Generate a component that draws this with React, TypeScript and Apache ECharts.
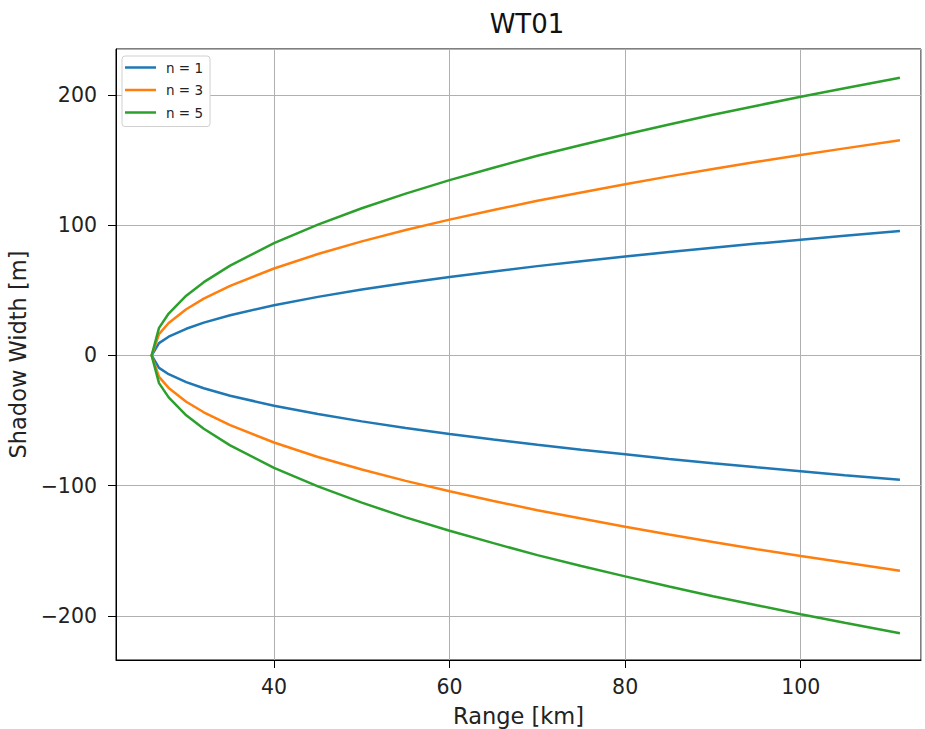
import React, { useEffect, useRef } from "react";
import * as echarts from "echarts";

const rangeKm = [26.06, 26.9, 28, 30, 32, 35, 40, 45, 50, 55, 60, 65, 70, 75, 80, 85, 90, 95, 100, 105, 111.3];
const n1Upper = [0, 9.5, 14.4, 20.5, 25.2, 30.9, 38.6, 45.0, 50.6, 55.6, 60.2, 64.5, 68.6, 72.4, 75.9, 79.4, 82.7, 85.9, 88.9, 91.9, 95.5];
const n1Lower = [0, -9.5, -14.4, -20.5, -25.2, -30.9, -38.6, -45.0, -50.6, -55.6, -60.2, -64.5, -68.6, -72.4, -75.9, -79.4, -82.7, -85.9, -88.9, -91.9, -95.5];
const n3Upper = [0, 16.4, 24.9, 35.5, 43.6, 53.5, 66.8, 77.9, 87.6, 96.3, 104.3, 111.7, 118.8, 125.2, 131.5, 137.5, 143.2, 148.7, 153.9, 159.0, 165.3];
const n3Lower = [0, -16.4, -24.9, -35.5, -43.6, -53.5, -66.8, -77.9, -87.6, -96.3, -104.3, -111.7, -118.8, -125.2, -131.5, -137.5, -143.2, -148.7, -153.9, -159.0, -165.3];
const n5Upper = [0, 21.2, 32.2, 45.9, 56.3, 69.0, 86.3, 100.5, 113.0, 124.3, 134.6, 144.1, 153.3, 161.6, 169.6, 177.4, 184.8, 191.8, 198.6, 205.2, 213.3];
const n5Lower = [0, -21.2, -32.2, -45.9, -56.3, -69.0, -86.3, -100.5, -113.0, -124.3, -134.6, -144.1, -153.3, -161.6, -169.6, -177.4, -184.8, -191.8, -198.6, -205.2, -213.3];
const seriesNames = ["n = 1", "n = 3", "n = 5"];
const colors = ["#1f77b4", "#ff7f0e", "#2ca02c"];

function branchPoints(upper: number[], lower: number[]) {
  const pts: [number, number][] = [];
  for (let i = rangeKm.length - 1; i >= 0; i--) pts.push([rangeKm[i], upper[i]]);
  for (let i = 1; i < rangeKm.length; i++) pts.push([rangeKm[i], lower[i]]);
  return pts;
}

const FONT = "DejaVu Sans";

export default function App() {
  const ref = useRef<HTMLDivElement>(null);
  useEffect(() => {
    if (!ref.current) return;
    const chart = echarts.init(ref.current, undefined, { renderer: "svg" });
    const data = [
      branchPoints(n1Upper, n1Lower),
      branchPoints(n3Upper, n3Lower),
      branchPoints(n5Upper, n5Lower),
    ];
    chart.setOption({
      animation: false,
      backgroundColor: "#ffffff",
      textStyle: { fontFamily: FONT },
      title: {
        text: "WT01",
        left: 522,
        textAlign: "center",
        top: 6,
        textStyle: { fontFamily: FONT, fontSize: 26, fontWeight: "normal", color: "#111" },
      },
      grid: {
        left: 116,
        right: 4,
        top: 49,
        bottom: 69,
        show: true,
        borderColor: "#000",
        borderWidth: 1,
        backgroundColor: "transparent",
        containLabel: false,
        outerBoundsMode: "none",
      },
      legend: {
        orient: "vertical",
        left: 122,
        top: 56,
        data: seriesNames,
        icon: "rect",
        itemWidth: 31,
        itemHeight: 2.5,
        itemGap: 8.5,
        padding: [4.5, 7, 7, 3],
        backgroundColor: "#fff",
        borderColor: "#d0d0d0",
        borderWidth: 1,
        borderRadius: 3,
        textStyle: { fontFamily: FONT, fontSize: 13.5, color: "#222", padding: [0, 0, 0, 5] },
      },
      xAxis: {
        type: "value",
        min: 22,
        max: 113.7,
        splitNumber: 5,
        name: "Range [km]",
        nameLocation: "middle",
        nameGap: 44,
        nameTextStyle: { fontFamily: FONT, fontSize: 22.5, color: "#222" },
        axisLine: { show: true, onZero: false, lineStyle: { color: "#000", width: 1 } },
        axisTick: { show: true, length: 8, lineStyle: { color: "#000" } },
        axisLabel: {
          margin: 16,
          fontFamily: FONT,
          fontSize: 20.5,
          color: "#222",
          showMinLabel: false,
          showMaxLabel: false,
        },
        splitLine: { show: true, lineStyle: { color: "#b0b0b0", width: 1 } },
      },
      yAxis: {
        type: "value",
        min: -233.8,
        max: 235.3,
        splitNumber: 5,
        name: "Shadow Width [m]",
        nameLocation: "middle",
        nameGap: 79,
        nameRotate: 90,
        nameTextStyle: { fontFamily: FONT, fontSize: 22.5, color: "#222" },
        axisLine: { show: true, onZero: false, lineStyle: { color: "#000", width: 1 } },
        axisTick: { show: true, length: 8, lineStyle: { color: "#000" } },
        axisLabel: {
          margin: 19,
          fontFamily: FONT,
          fontSize: 20.5,
          color: "#222",
          showMinLabel: false,
          showMaxLabel: false,
          formatter: (v: number) => (v < 0 ? "\u2212" + Math.abs(v) : String(v)),
        },
        splitLine: { show: true, lineStyle: { color: "#b0b0b0", width: 1 } },
      },
      series: seriesNames.map((name, i) => ({
        name,
        type: "line",
        data: data[i],
        showSymbol: false,
        symbol: "none",
        color: colors[i],
        lineStyle: { color: colors[i], width: 2.5 },
        z: 3 + i,
      })),
    });
    return () => chart.dispose();
  }, []);
  return (
    <div
      ref={ref}
      style={{ position: "absolute", left: 0, top: 0, width: 925, height: 729 }}
    />
  );
}
